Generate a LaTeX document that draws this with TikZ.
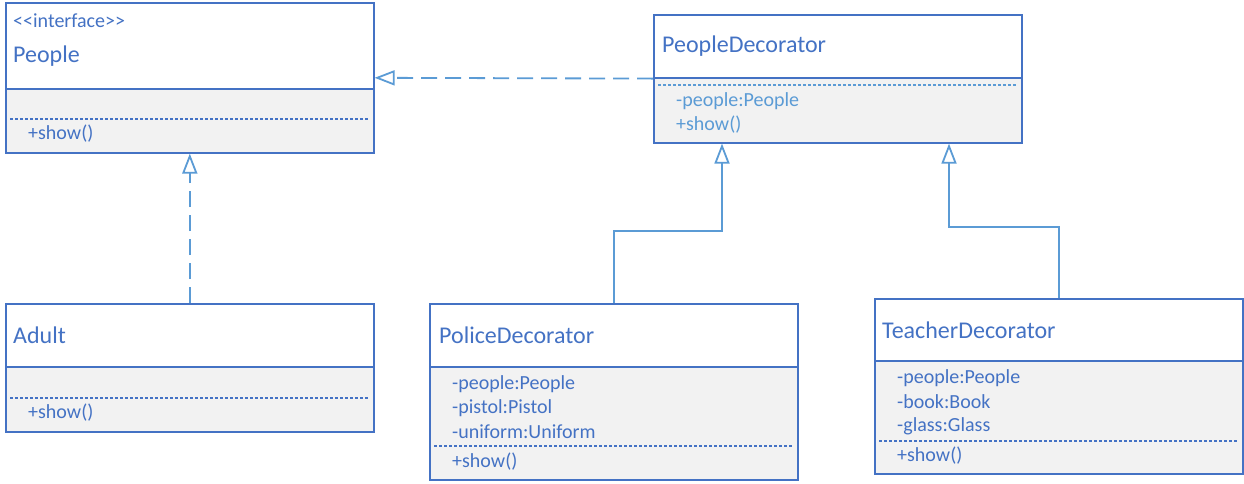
\documentclass[tikz,border=0pt]{standalone}
\usepackage{fontspec}
\setmainfont{Carlito}[Ligatures=TeXOff]
\usepackage{tikz}
\usetikzlibrary{arrows.meta}
\definecolor{umlblue}{HTML}{4472C4}
\definecolor{linkblue}{HTML}{5B9BD5}
\definecolor{boxgray}{HTML}{F2F2F2}
\newcommand{\BD}[0]{umlblue}
\newcommand{\LK}[0]{linkblue}

\begin{document}
\begin{tikzpicture}[x=1pt, y=-1pt,
  classbox/.style={draw=\BD, line width=1.6pt, fill=boxgray, inner sep=0pt,
    minimum width=368pt, anchor=north west},
  headbox/.style={classbox, fill=white},
  cname/.style={anchor=west, inner sep=0pt, text=\BD, font=\fontsize{24}{28}\selectfont},
  member/.style={anchor=west, inner sep=0pt, text=\BD, font=\fontsize{20}{24}\selectfont},
  sepline/.style={draw=\BD, line width=1.2pt, dash pattern=on 3pt off 2pt},
  realize/.style={draw=\LK, line width=1.8pt, dash pattern=on 16pt off 8pt,
    -{Triangle[open, length=20pt, width=15pt, fill=white]}},
  inherit/.style={draw=\LK, line width=1.8pt,
    -{Triangle[open, length=20pt, width=15pt, fill=white]}}]

  \useasboundingbox (0,0) rectangle (1244,483);

  %% People
  \node[classbox, minimum height=150pt] (people) at (5,2) {};
  \node[headbox, minimum height=86pt] (peoplehead) at (5,2) {};
  \node[member] (peoplestereo) at (13,21) {<<interface>>};
  \node[cname] (peoplename) at (13,56) {People};
  \draw[sepline] (10,119) -- (368,119);
  \node[member] (peopleshow) at (28,134) {+show()};

  %% Adult
  \node[classbox, minimum height=128pt] (adult) at (5,303) {};
  \node[headbox, minimum height=63pt] (adulthead) at (5,303) {};
  \node[cname] (adultname) at (13,335) {Adult};
  \draw[sepline] (10,398) -- (368,398);
  \node[member] (adultshow) at (28,413) {+show()};

  %% PeopleDecorator
  \node[classbox, minimum height=128pt] (decorator) at (653,14) {};
  \node[headbox, minimum height=63pt] (decoratorhead) at (653,14) {};
  \node[cname] (decoratorname) at (662,46) {PeopleDecorator};
  \draw[sepline, draw=\LK] (658,85) -- (1016,85);
  \node[member, text=\LK] (decoratorpeople) at (676,101) {-people:People};
  \node[member, text=\LK] (decoratorshow) at (676,125) {+show()};

  %% PoliceDecorator
  \node[classbox, minimum height=176pt] (police) at (429,303) {};
  \node[headbox, minimum height=63pt] (policehead) at (429,303) {};
  \node[cname] (policename) at (439,335) {PoliceDecorator};
  \node[member] (policepeople) at (452,384) {-people:People};
  \node[member] (policepistol) at (452,408) {-pistol:Pistol};
  \node[member] (policeuniform) at (452,432) {-uniform:Uniform};
  \draw[sepline] (434,446) -- (792,446);
  \node[member] (policeshow) at (452,462) {+show()};

  %% TeacherDecorator
  \node[classbox, minimum height=175pt] (teacher) at (874,298) {};
  \node[headbox, minimum height=62pt] (teacherhead) at (874,298) {};
  \node[cname] (teachername) at (882,330) {TeacherDecorator};
  \node[member] (teacherpeople) at (897,378) {-people:People};
  \node[member] (teacherbook) at (897,402) {-book:Book};
  \node[member] (teacherglass) at (897,426) {-glass:Glass};
  \draw[sepline] (879,441) -- (1237,441);
  \node[member] (teachershow) at (897,456) {+show()};

  %% connectors
  \coordinate (policejoint) at (722,231);
  \coordinate (teacherjoint) at (949,227);

  \draw[realize] (decoratorhead.south west) -- (people.east);
  \draw[realize] (adult.north) -- (people.south);
  \draw[inherit] (police.north) |- (policejoint) -- (policejoint |- decorator.south);
  \draw[inherit] (teacher.north) |- (teacherjoint) -- (teacherjoint |- decorator.south);

\end{tikzpicture}
\end{document}
